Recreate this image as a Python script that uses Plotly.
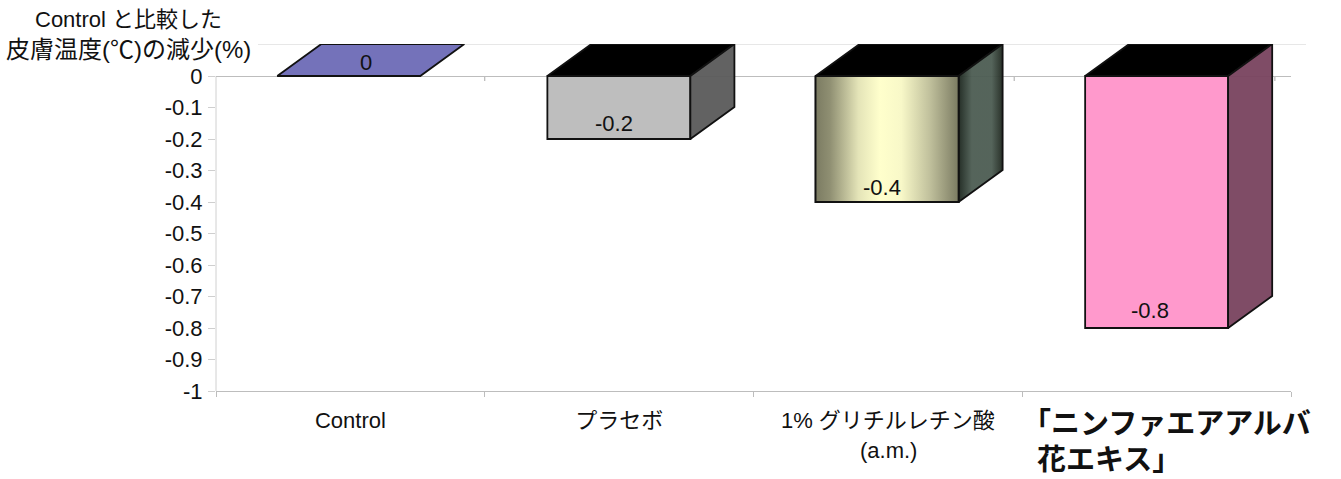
import plotly.graph_objects as go

categories = ["Control", "プラセボ", "1% グリチルレチン酸", "「ニンファエアアルバ"]
values = [0, -0.2, -0.4, -0.8]
value_labels = ["0", "-0.2", "-0.4", "-0.8"]
y_ticks = [0, -0.1, -0.2, -0.3, -0.4, -0.5, -0.6, -0.7, -0.8, -0.9, -1]
y_tick_labels = ["0", "-0.1", "-0.2", "-0.3", "-0.4", "-0.5", "-0.6", "-0.7", "-0.8", "-0.9", "-1"]
front_colors = ["#7472BA", "#BEBEBE", "#C9C9A0", "#FF99CC"]
side_colors = ["rgba(70,70,120,0.95)", "rgba(90,90,90,0.95)", "rgba(86,100,90,0.92)", "rgba(120,66,94,0.95)"]
top_colors = ["#7472BA", "#000000", "#000000", "#000000"]

BAR_W = 0.532
DX, DY = 0.164, 0.1016
XS = [-0.006, 0.999, 1.997, 3.0]
FONT = "Liberation Sans, Arial, Noto Sans CJK JP, sans-serif"
OUT = dict(color="#111111", width=1.8)

fig = go.Figure()
fig.add_trace(go.Bar(x=XS, y=values, width=BAR_W, marker=dict(color=front_colors, line=OUT),
                     showlegend=False, hoverinfo="skip"))

for i, v in enumerate(values):
    x0, x1 = XS[i] - BAR_W / 2, XS[i] + BAR_W / 2
    # top face
    fig.add_trace(go.Scatter(x=[x0, x1, x1 + DX, x0 + DX, x0], y=[0, 0, DY, DY, 0], mode="lines",
                             fill="toself", fillcolor=top_colors[i], line=OUT,
                             showlegend=False, hoverinfo="skip"))
    # right face
    if v != 0:
        kw = dict(fillcolor=side_colors[i])
        if i == 2:
            kw = dict(fillgradient=dict(type="horizontal",
                      colorscale=[[0, "rgba(28,38,30,0.96)"], [0.3, "rgba(76,92,82,0.95)"],
                                  [0.75, "rgba(76,92,82,0.95)"], [1, "rgba(32,40,32,0.96)"]]))
        fig.add_trace(go.Scatter(x=[x1, x1 + DX, x1 + DX, x1, x1], y=[0, DY, v + DY, v, 0], mode="lines",
                                 fill="toself", line=OUT, showlegend=False, hoverinfo="skip", **kw))
    # gradient front for third bar
    if i == 2:
        fig.add_trace(go.Scatter(x=[x0, x1, x1, x0, x0], y=[0, 0, v, v, 0], mode="lines",
                                 fill="toself", line=OUT, showlegend=False, hoverinfo="skip",
                                 fillgradient=dict(type="horizontal",
                                    colorscale=[[0, "#7B7B62"], [0.1, "#8F8F72"], [0.3, "#E4E4B8"],
                                                [0.45, "#FFFFCC"], [0.6, "#F8F8C8"], [0.8, "#C0C09C"],
                                                [1, "#7B7B62"]])))

shapes = [dict(type="line", xref="paper", yref="y", x0=42 / 1075, x1=1090 / 1075, y0=DY, y1=DY,
               line=dict(color="#CFCFCF", width=1), layer="below")]
for tx in [0.5, 2.47, 3.44]:
    shapes.append(dict(type="line", xref="x", yref="y", ysizemode="pixel", yanchor=0, x0=tx, x1=tx,
                       y0=0, y1=-5, line=dict(color="#A8A8A8", width=1), layer="below"))

ann = []
def text(s, px, py, size=22, **kw):
    ann.append(dict(text=s, xref="paper", yref="paper", x=(px - 216) / 1075, y=1 - (py - 44) / 347,
                    showarrow=False, xanchor="center", yanchor="middle",
                    font=dict(size=size, color="#111111", family=FONT), **kw))

text("Control と比較した", 128, 19, size=22)
text("皮膚温度(℃)の減少(%)", 128, 50, size=24)
text("(a.m.)", 888, 450, size=22)
text("<b>「ニンファエアアルバ</b>", 1166, 424, size=29)
text("<b>花エキス」</b>", 1109, 460, size=29)

shifts = [17, -5, -5, -7]
yshifts = [14, 16, 15, 18]
for i, (v, lab) in enumerate(zip(values, value_labels)):
    ann.append(dict(text=lab, x=XS[i], y=v, xref="x", yref="y", showarrow=False, xshift=shifts[i],
                    yshift=yshifts[i], font=dict(size=22, color="#111111", family=FONT)))

fig.update_layout(
    width=1341, height=479, autosize=False, bargap=0.47,
    margin=dict(l=216, r=50, t=44, b=88, pad=0),
    plot_bgcolor="white", paper_bgcolor="white", showlegend=False,
    font=dict(family=FONT, size=22, color="#111111"),
    shapes=shapes, annotations=ann,
    xaxis=dict(range=[-0.5, 3.5], tickmode="array", tickvals=[0, 1, 2], ticktext=categories[:3],
               ticks="", ticklabelstandoff=10, showgrid=False, zeroline=False,
               showline=True, linecolor="#BDBDBD", linewidth=1,
               minor=dict(tickmode="array", tickvals=[-0.5, 0.5, 1.5, 2.5, 3.5], ticks="outside",
                          ticklen=5, tickcolor="#BDBDBD", showgrid=False)),
    yaxis=dict(range=[-1, DY], tickmode="array", tickvals=y_ticks, ticktext=y_tick_labels,
               ticks="outside", ticklen=7, tickcolor="#CFCFCF", ticklabelstandoff=1,
               showgrid=False, zeroline=True, zerolinecolor="#BDBDBD", zerolinewidth=1,
               showline=False),
)
# y-axis line only spans the 0 to -1 part of the plot
fig.add_shape(type="line", xref="paper", yref="y", x0=0, x1=0, y0=0, y1=-1,
              line=dict(color="#D0D0D0", width=1), layer="below")

fig.write_html("out.html", config={"displayModeBar": False},
               post_script="document.body.style.margin='0';")
